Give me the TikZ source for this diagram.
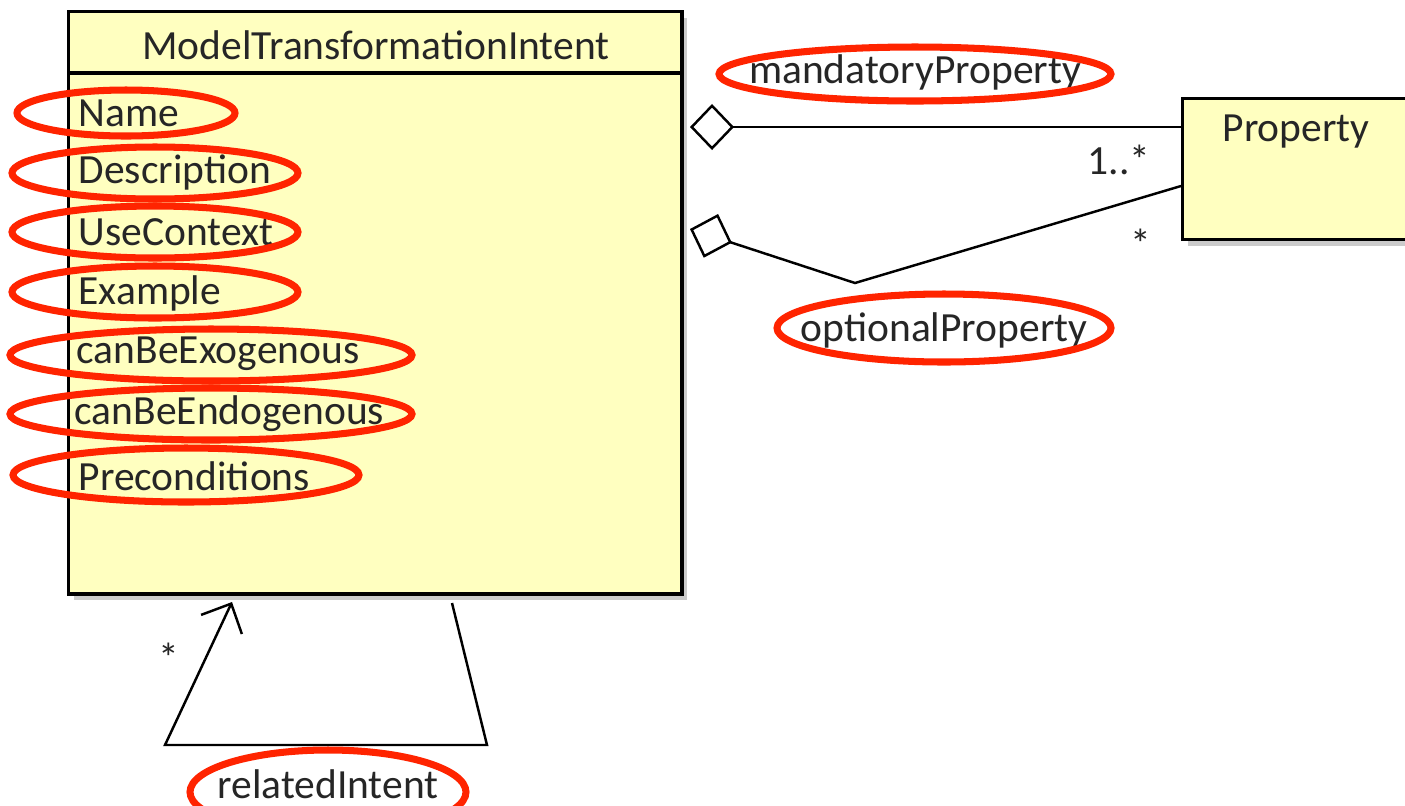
\documentclass[tikz,border=0pt]{standalone}
\usepackage{fontspec}
\setmainfont{Carlito}
\usetikzlibrary{arrows.meta,shadows}

\definecolor{classfill}{RGB}{255,255,192}
\definecolor{markred}{RGB}{255,36,0}
\newcommand{\umlfont}{\fontsize{11.8}{14}\selectfont}

\tikzset{
    class box/.style={rectangle,draw,line width=0.9pt,fill=classfill,inner sep=0,
        drop shadow={shadow xshift=0.5mm,shadow yshift=-0.6mm,fill=black!40}},
    attr/.style={anchor=west,inner sep=0,text=black!85,font=\umlfont},
    lbl/.style={inner sep=0,text=black!85,font=\umlfont},
    ring/.style={draw=markred,line width=2pt},
    assoc/.style={line width=0.7pt},
    aggr/.style={assoc,{Diamond[open,length=4.4mm,width=4.6mm]}-}
    }

\begin{document}
\begin{tikzpicture}[x=0.01cm,y=-0.01cm]
    \clip (0,0) rectangle (1405,805);
    \fill[white] (0,0) rectangle (1405,805);

    % classes
    \node(intent)[class box,minimum width=6.13cm,minimum height=5.82cm,anchor=north west] at (67,10) {};
    \draw[line width=0.9pt] ([yshift=-0.63cm]intent.north west) -- ([yshift=-0.63cm]intent.north east);
    \node(intenthead)[lbl] at (376,45) {ModelTransformationIntent};
    \node(prop)[class box,minimum width=2.4cm,minimum height=1.41cm,anchor=north west] at (1181,97) {};
    \node(propname)[lbl] at (1296,132) {Property};

    % attributes
    \node(name)[attr] at (78,113) {Name};
    \node(desc)[attr] at (78,172) {Description};
    \node(usectx)[attr] at (78,232) {UseContext};
    \node(example)[attr] at (78,293) {Example};
    \node(exo)[attr] at (76,354) {canBeExogenous};
    \node(endo)[attr] at (74,414) {canBeEndogenous};
    \node(precond)[attr] at (78,476) {Preconditions};

    % aggregations to Property
    \coordinate(mandA) at (690,127);
    \coordinate(optA) at (690,229);
    \coordinate(optBend) at (855,283);
    \coordinate(optB) at (1181,186);
    \draw[aggr] (mandA) -- (prop.west |- mandA);
    \draw[aggr] (optA) -- (optBend) -- (optB);
    \node(mandlbl)[lbl] at (915,72) {mandatoryProperty};
    \node(optlbl)[lbl] at (944,330) {optionalProperty};
    \node(mandmult)[lbl] at (1119,160) {1..*};
    \node(optmult)[lbl] at (1141,244) {*};

    % self association
    \coordinate(selfout) at (452,603);
    \coordinate(selfR) at (487,745);
    \coordinate(selfL) at (165,745);
    \coordinate(selfin) at (232,602);
    \draw[assoc,-{Straight Barb[length=2.3mm,width=4.5mm]}] (selfout) -- (selfR) -- (selfL) -- (selfin);
    \node(selfmult)[lbl] at (169,658) {*};
    \node(rellbl)[lbl] at (328,784) {relatedIntent};

    % highlight rings
    \draw[ring] (126,113) ellipse (109 and 23);
    \draw[ring] (155,173) ellipse (143 and 26);
    \draw[ring] (155,232) ellipse (143 and 26);
    \draw[ring] (155,292) ellipse (143 and 26);
    \draw[ring] (211,355) ellipse (201 and 26);
    \draw[ring] (211,414) ellipse (201 and 26);
    \draw[ring] (186,475) ellipse (173 and 27);
    \draw[ring] (915,74) ellipse (196 and 27);
    \draw[ring] (944,328) ellipse (167 and 34);
    \draw[ring] (328,792) ellipse (138 and 42);
\end{tikzpicture}
\end{document}
